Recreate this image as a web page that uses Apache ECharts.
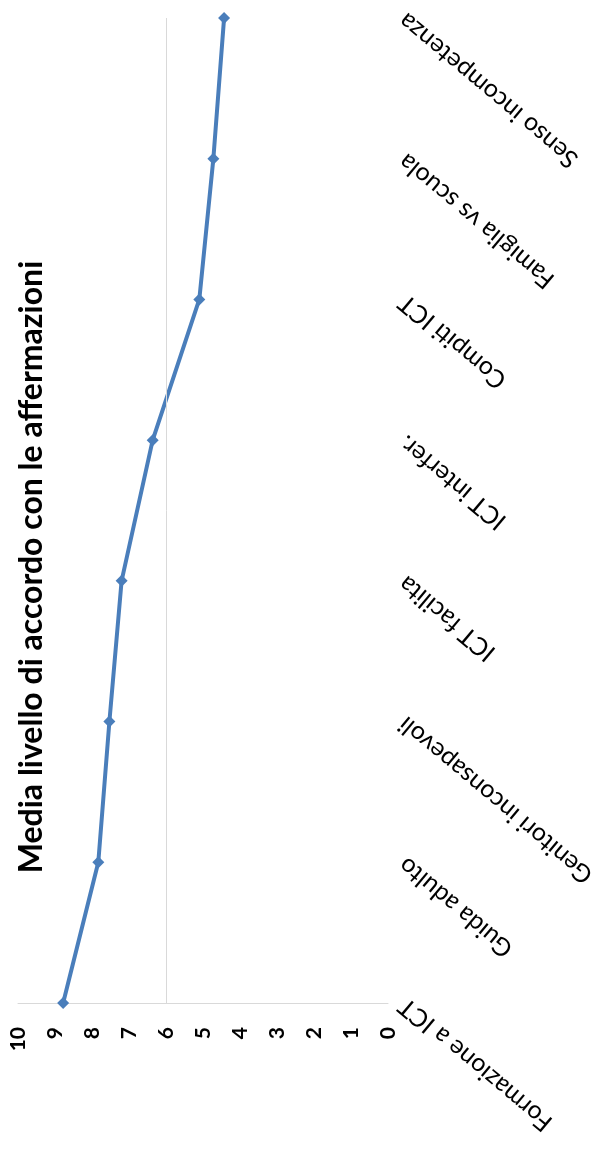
<!DOCTYPE html>
<html>
<head>
<meta charset="utf-8">
<script src="https://cdn.jsdelivr.net/npm/echarts@6/dist/echarts.min.js"></script>
<style>
  html, body { margin: 0; padding: 0; background: #fff; }
  #chart { width: 608px; height: 1149px; }
</style>
</head>
<body>
<div id="chart"></div>
<script>
// categories, listed from bottom to top
var categories = ['Formazione a ICT', 'Guida adulto', 'Genitori inconsapevoli', 'ICT facilita',
    'ICT interfer.', 'Compiti ICT', 'Famiglia vs scuola', 'Senso incompetenza'];
var meanValues = [8.78, 7.83, 7.53, 7.2, 6.36, 5.1, 4.72, 4.43];
var axisMin = 0, axisMax = 10, axisStep = 1;
var refValue = 6;
var titleText = 'Media livello di accordo con le affermazioni';

var chart = echarts.init(document.getElementById('chart'));
var option = {
    animation: false,
    backgroundColor: '#fff',
    grid: { left: 18, right: 220, top: 18, bottom: 146, containLabel: false },
    graphic: [{
        type: 'text',
        x: 32, y: 567,
        rotation: Math.PI / 2,
        style: {
            text: titleText,
            font: 'bold 32px Lato',
            fill: '#000',
            align: 'center',
            verticalAlign: 'middle'
        }
    }],
    xAxis: {
        type: 'value',
        min: axisMin, max: axisMax, interval: axisStep,
        inverse: true,
        axisLine: { show: true, lineStyle: { color: '#d9d9d9', width: 1 } },
        axisTick: { show: false },
        splitLine: { show: false },
        axisLabel: { rotate: 90, margin: 24, color: '#000', fontFamily: 'Lato', fontWeight: 'bold', fontSize: 21 }
    },
    yAxis: {
        type: 'category',
        position: 'right',
        boundaryGap: false,
        data: categories,
        axisLine: { show: false },
        axisTick: { show: false },
        splitLine: { show: false },
        axisLabel: { rotate: 140, align: 'right', margin: 14, color: '#000', fontFamily: 'Lato', fontSize: 25 }
    },
    series: [{
        type: 'line',
        data: meanValues,
        symbol: 'diamond',
        symbolSize: 12,
        lineStyle: { color: '#4a7ebb', width: 4 },
        itemStyle: { color: '#4a7ebb' },
        markLine: {
            silent: true,
            symbol: 'none',
            label: { show: false },
            lineStyle: { color: '#d9d9d9', width: 1, type: 'solid' },
            data: [{ xAxis: refValue }]
        }
    }]
};
chart.setOption(option);
</script>
</body>
</html>
